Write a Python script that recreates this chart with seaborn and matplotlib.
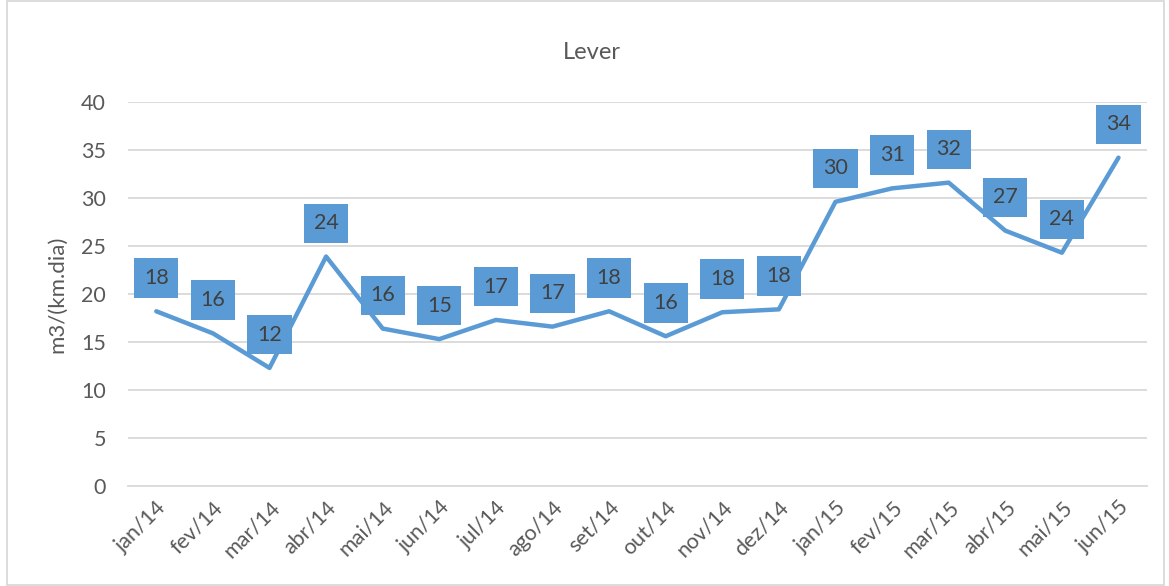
import seaborn as sns
import matplotlib.pyplot as plt
import pandas as pd
from matplotlib.patches import Rectangle

months = ['jan/14', 'fev/14', 'mar/14', 'abr/14', 'mai/14', 'jun/14', 'jul/14', 'ago/14', 'set/14',
          'out/14', 'nov/14', 'dez/14', 'jan/15', 'fev/15', 'mar/15', 'abr/15', 'mai/15', 'jun/15']
values = [18.2, 15.9, 12.3, 23.9, 16.4, 15.3, 17.3, 16.6, 18.2,
          15.6, 18.1, 18.4, 29.6, 31.0, 31.6, 26.6, 24.3, 34.2]
y_ticks = [0, 5, 10, 15, 20, 25, 30, 35, 40]

df = pd.DataFrame({'mes': months, 'valor': values})
df['pos'] = range(len(df))

blue = '#5B9BD5'
grey_text = '#595959'

sns.set_theme(style='white')
plt.rcParams['font.family'] = ['Lato', 'DejaVu Sans']

fig = plt.figure(figsize=(11.69, 5.86), dpi=100)
ax = fig.add_axes([0.1095, 0.1706, 0.8715, 0.6554])

for t in y_ticks[1:]:
    ax.axhline(t, color='#D9D9D9', lw=1.3, zorder=0)

sns.lineplot(data=df, x='pos', y='valor', color=blue, lw=3.2, ax=ax, zorder=2)

for i, v in enumerate(values):
    ax.annotate(f'{v:.0f}', (i, v), xytext=(0, 24), textcoords='offset points',
                ha='center', va='center', fontsize=15.5, color='#404040',
                bbox=dict(boxstyle='square,pad=0.45', fc=blue, ec='none'), zorder=3)

ax.set_xlim(-0.5, len(months) - 0.5)
ax.set_ylim(0, 40)
ax.set_yticks(y_ticks)
ax.set_yticklabels([str(t) for t in y_ticks], fontsize=15.5, color=grey_text)
ax.set_xticks(range(len(months)))
ax.set_xticklabels(months, rotation=45, ha='right', rotation_mode='anchor',
                   fontsize=15.5, color=grey_text)
ax.set_xticks([i - 0.5 for i in range(len(months) + 1)], minor=True)
ax.tick_params(axis='x', which='major', length=0, pad=8)
ax.tick_params(axis='x', which='minor', length=6, color='#D9D9D9', width=1.3, direction='out')
ax.tick_params(axis='y', length=0, pad=16)

for side in ['top', 'right', 'left']:
    ax.spines[side].set_visible(False)
ax.spines['bottom'].set_color('#D9D9D9')
ax.spines['bottom'].set_linewidth(1.3)

ax.set_xlabel('')
ax.set_ylabel('m3/(km.dia)', fontsize=16, color=grey_text, labelpad=10)
fig.text(0.506, 0.911, 'Lever', fontsize=17, color=grey_text, ha='center', va='center')

fig.patches.append(Rectangle((0.006, 0.002), 0.99, 0.996, transform=fig.transFigure,
                             fill=False, ec='#D9D9D9', lw=1.3))

fig.savefig('out.png', dpi=100)
